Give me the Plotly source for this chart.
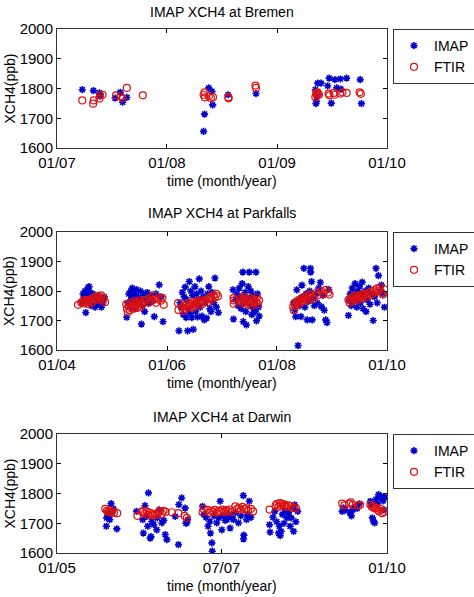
import plotly.graph_objects as go

# ---------------- data ----------------
bremen_imap = [
    ("2007-03-26",1796),("2007-05-02",1793),("2007-05-22",1785),("2007-05-24",1774),
    ("2007-07-13",1768),("2007-07-30",1787),("2007-08-07",1754),("2007-08-21",1770),
    ("2008-05-02",1656),("2008-05-05",1714),("2008-05-19",1802),("2008-05-30",1790),
    ("2008-06-01",1745),("2008-07-22",1779),("2008-10-23",1783),
    ("2009-05-08",1796),("2009-05-10",1749),("2009-05-12",1757),("2009-05-13",1774),
    ("2009-05-16",1818),("2009-05-27",1818),("2009-06-18",1809),("2009-06-23",1835),
    ("2009-06-30",1751),("2009-07-12",1830),("2009-07-18",1802),("2009-07-30",1832),
    ("2009-08-01",1798),("2009-08-20",1835),("2009-10-04",1830),("2009-10-08",1749),
]
bremen_ftir = [
    ("2007-03-26",1760),("2007-05-01",1749),("2007-05-03",1760),("2007-05-22",1766),
    ("2007-05-24",1777),("2007-06-01",1779),("2007-07-16",1777),("2007-07-31",1774),
    ("2007-08-08",1766),("2007-08-21",1802),("2007-10-13",1777),
    ("2008-05-02",1779),("2008-05-05",1787),("2008-05-06",1770),("2008-05-19",1774),
    ("2008-05-26",1768),("2008-06-02",1771),("2008-07-23",1771),("2008-07-24",1767),
    ("2008-10-21",1810),("2008-10-23",1802),
    ("2009-05-08",1771),("2009-05-11",1785),("2009-05-13",1777),("2009-05-15",1787),
    ("2009-05-17",1783),("2009-05-20",1779),("2009-06-21",1783),("2009-06-24",1777),
    ("2009-07-08",1785),("2009-07-11",1779),("2009-07-30",1783),("2009-08-06",1787),
    ("2009-08-20",1785),("2009-10-02",1787),("2009-10-06",1782),
]

parkfalls_imap = [
    ("2004-06-15",1760),("2004-06-22",1790),("2004-06-28",1775),("2004-07-05",1800),
    ("2004-07-10",1727),("2004-07-14",1785),("2004-07-20",1765),("2004-07-25",1810),
    ("2004-08-01",1815),("2004-08-05",1795),("2004-08-09",1780),("2004-08-14",1750),
    ("2004-08-20",1770),("2004-08-26",1790),("2004-09-02",1760),("2004-09-10",1745),
    ("2004-09-18",1775),("2004-09-25",1785),("2004-10-05",1755),("2004-10-12",1770),
    ("2004-10-22",1745),("2004-11-01",1760),("2004-11-10",1780),
    ("2005-04-08",1711),("2005-04-15",1760),("2005-04-22",1790),("2005-04-28",1745),
    ("2005-05-05",1800),("2005-05-10",1775),("2005-05-15",1810),("2005-05-20",1765),
    ("2005-05-25",1795),("2005-06-01",1740),("2005-06-06",1785),("2005-06-12",1805),
    ("2005-06-18",1755),("2005-06-24",1780),("2005-07-01",1770),("2005-07-08",1800),
    ("2005-07-15",1688),("2005-07-22",1750),("2005-07-28",1790),("2005-08-05",1730),
    ("2005-08-12",1775),("2005-08-22",1795),("2005-09-01",1760),("2005-09-12",1785),
    ("2005-09-25",1765),("2005-10-08",1713),("2005-10-20",1790),("2005-11-10",1821),
    ("2005-11-22",1780),("2005-12-05",1696),
    ("2006-03-21",1665),("2006-03-28",1760),("2006-04-05",1745),("2006-04-12",1795),
    ("2006-04-20",1720),("2006-04-25",1780),("2006-05-01",1813),("2006-05-08",1710),
    ("2006-05-12",1770),("2006-05-18",1665),("2006-05-22",1740),("2006-05-29",1832),
    ("2006-06-03",1725),("2006-06-08",1800),("2006-06-14",1710),("2006-06-19",1785),
    ("2006-06-24",1670),("2006-06-29",1755),("2006-07-05",1815),("2006-07-10",1730),
    ("2006-07-16",1790),("2006-07-22",1712),("2006-07-28",1770),("2006-08-03",1841),
    ("2006-08-09",1745),("2006-08-15",1800),("2006-08-21",1715),("2006-08-28",1780),
    ("2006-09-05",1702),("2006-09-12",1760),("2006-09-20",1708),("2006-09-27",1790),
    ("2006-10-05",1815),("2006-10-12",1740),("2006-10-20",1730),("2006-10-28",1795),
    ("2006-11-08",1760),("2006-11-15",1844),("2006-11-25",1745),("2006-12-08",1727),
    ("2007-03-15",1804),("2007-03-18",1705),("2007-04-01",1770),("2007-04-10",1790),
    ("2007-04-18",1750),("2007-04-25",1810),("2007-05-01",1780),("2007-05-08",1740),
    ("2007-05-15",1825),("2007-05-19",1864),("2007-05-22",1696),("2007-05-28",1760),
    ("2007-06-03",1795),("2007-06-08",1730),("2007-06-12",1685),("2007-06-18",1775),
    ("2007-06-24",1815),("2007-07-01",1864),("2007-07-06",1750),("2007-07-12",1800),
    ("2007-07-18",1720),("2007-07-24",1785),("2007-07-30",1740),("2007-08-05",1765),
    ("2007-08-10",1730),("2007-08-14",1864),("2007-08-18",1699),("2007-08-25",1790),
    ("2007-09-01",1745),("2007-09-05",1715),
    ("2008-04-20",1760),("2008-04-28",1735),("2008-05-05",1713),("2008-05-12",1804),
    ("2008-05-20",1615),("2008-05-25",1770),("2008-06-01",1750),("2008-06-08",1713),
    ("2008-06-15",1820),("2008-06-22",1780),("2008-06-28",1877),("2008-07-05",1745),
    ("2008-07-12",1790),("2008-07-20",1702),("2008-07-28",1765),("2008-08-05",1800),
    ("2008-08-10",1877),("2008-08-12",1864),("2008-08-18",1832),("2008-08-22",1702),
    ("2008-08-28",1775),("2008-09-05",1750),("2008-09-15",1790),("2008-09-25",1760),
    ("2008-10-05",1810),("2008-10-15",1829),("2008-10-22",1747),("2008-11-01",1785),
    ("2008-11-10",1735),("2008-11-20",1702),("2008-11-28",1693),("2008-12-10",1805),
    ("2009-04-20",1717),("2009-04-25",1770),("2009-05-01",1790),("2009-05-08",1750),
    ("2009-05-15",1810),("2009-05-20",1780),("2009-05-28",1765),("2009-06-03",1825),
    ("2009-06-08",1795),("2009-06-14",1745),("2009-06-20",1800),("2009-06-26",1775),
    ("2009-07-02",1815),("2009-07-08",1760),("2009-07-14",1790),("2009-07-20",1830),
    ("2009-07-26",1740),("2009-08-01",1785),("2009-08-08",1800),("2009-08-15",1730),
    ("2009-08-22",1770),("2009-09-01",1810),("2009-09-10",1755),("2009-09-20",1790),
    ("2009-10-01",1700),("2009-10-10",1780),("2009-10-20",1877),("2009-10-28",1760),
    ("2009-11-05",1852),("2009-11-15",1800),("2009-11-25",1820),("2009-12-05",1790),
    ("2009-12-15",1745),
]
parkfalls_ftir = [
    ("2004-05-20",1753),("2004-06-10",1760),("2004-06-20",1765),("2004-06-28",1758),
    ("2004-07-05",1770),("2004-07-12",1762),("2004-07-20",1768),("2004-07-28",1755),
    ("2004-08-05",1765),("2004-08-12",1772),("2004-08-20",1760),("2004-09-01",1775),
    ("2004-09-10",1780),("2004-09-18",1770),("2004-09-25",1778),("2004-10-05",1782),
    ("2004-10-12",1772),("2004-10-20",1785),("2004-10-28",1768),("2004-11-05",1775),
    ("2004-11-15",1762),
    ("2005-04-05",1755),("2005-04-10",1740),("2005-04-15",1728),("2005-04-22",1750),
    ("2005-04-28",1735),("2005-05-04",1760),("2005-05-10",1745),("2005-05-16",1752),
    ("2005-05-22",1740),("2005-05-28",1765),("2005-06-03",1748),("2005-06-09",1758),
    ("2005-06-15",1742),("2005-06-21",1762),("2005-06-27",1750),("2005-07-03",1768),
    ("2005-07-09",1745),("2005-07-15",1760),("2005-07-21",1755),("2005-08-01",1765),
    ("2005-08-15",1770),("2005-09-01",1760),("2005-09-10",1778),("2005-09-20",1768),
    ("2005-10-01",1785),("2005-10-10",1772),("2005-10-20",1760),("2005-11-05",1775),
    ("2005-11-20",1767),("2005-12-01",1777),("2005-12-10",1753),
    ("2006-03-15",1759),("2006-03-18",1736),("2006-04-10",1745),("2006-04-18",1732),
    ("2006-04-25",1750),("2006-05-02",1740),("2006-05-10",1755),("2006-05-18",1745),
    ("2006-05-25",1760),("2006-06-02",1748),("2006-06-10",1755),("2006-06-18",1742),
    ("2006-06-25",1762),("2006-07-03",1750),("2006-07-10",1758),("2006-07-18",1765),
    ("2006-07-25",1752),("2006-08-02",1760),("2006-08-10",1768),("2006-08-20",1755),
    ("2006-09-01",1765),("2006-09-15",1770),("2006-09-25",1762),("2006-10-05",1775),
    ("2006-10-15",1780),("2006-10-25",1770),("2006-11-05",1785),("2006-11-15",1778),
    ("2006-11-25",1790),("2006-12-05",1782),
    ("2007-03-18",1776),("2007-03-20",1757),("2007-03-22",1768),("2007-05-01",1765),
    ("2007-05-08",1775),("2007-05-15",1758),("2007-05-22",1770),("2007-05-29",1780),
    ("2007-06-05",1762),("2007-06-12",1772),("2007-06-19",1755),("2007-06-26",1768),
    ("2007-07-03",1760),("2007-07-10",1775),("2007-07-17",1750),("2007-07-24",1765),
    ("2007-07-31",1758),("2007-08-07",1770),("2007-08-14",1762),("2007-08-21",1778),
    ("2007-08-28",1755),("2007-09-04",1768),
    ("2008-04-18",1747),("2008-04-22",1735),("2008-04-28",1760),("2008-05-05",1750),
    ("2008-05-12",1765),("2008-05-20",1755),("2008-05-28",1770),("2008-06-05",1760),
    ("2008-06-12",1775),("2008-06-20",1765),("2008-06-28",1780),("2008-07-05",1770),
    ("2008-07-12",1778),("2008-07-20",1768),("2008-07-28",1785),("2008-08-05",1775),
    ("2008-08-12",1790),("2008-08-20",1780),("2008-09-01",1772),("2008-09-20",1795),
    ("2008-10-05",1787),("2008-10-20",1800),("2008-11-05",1790),("2008-11-20",1804),
    ("2008-12-05",1795),("2008-12-15",1788),
    ("2009-04-20",1770),("2009-04-28",1760),("2009-05-05",1775),("2009-05-12",1765),
    ("2009-05-20",1780),("2009-05-28",1770),("2009-06-05",1785),("2009-06-12",1775),
    ("2009-06-20",1768),("2009-06-28",1782),("2009-07-05",1778),("2009-07-12",1788),
    ("2009-07-20",1775),("2009-07-28",1785),("2009-08-05",1790),("2009-08-15",1780),
    ("2009-08-25",1792),("2009-09-05",1785),("2009-09-15",1798),("2009-09-25",1790),
    ("2009-10-05",1802),("2009-10-15",1795),("2009-10-25",1808),("2009-11-05",1800),
    ("2009-11-15",1812),("2009-11-25",1795),("2009-12-05",1788),("2009-12-15",1805),
]

darwin_imap = [
    ("2005-10-01",1690),("2005-10-03",1718),("2005-10-08",1735),("2005-10-14",1725),
    ("2005-10-20",1712),("2005-10-27",1766),("2005-11-02",1740),("2005-11-10",1748),
    ("2005-11-28",1681),
    ("2006-03-17",1740),("2006-04-20",1712),("2006-04-24",1667),("2006-05-03",1759),
    ("2006-05-13",1723),("2006-05-18",1690),("2006-05-22",1802),("2006-06-01",1650),
    ("2006-06-05",1655),("2006-06-10",1706),("2006-06-20",1695),("2006-07-07",1678),
    ("2006-07-10",1718),("2006-07-20",1745),("2006-08-04",1701),("2006-08-15",1710),
    ("2006-08-23",1662),("2006-09-01",1645),("2006-10-17",1723),("2006-11-04",1628),
    ("2006-11-06",1763),("2006-11-22",1785),("2006-12-11",1751),("2006-12-15",1700),
    ("2006-12-20",1701),("2006-12-25",1712),
    ("2007-03-17",1757),("2007-03-25",1730),("2007-04-05",1720),("2007-04-17",1690),
    ("2007-04-27",1706),("2007-04-30",1667),("2007-05-08",1634),("2007-05-10",1606),
    ("2007-05-20",1725),("2007-06-04",1701),("2007-06-15",1718),("2007-06-23",1774),
    ("2007-07-02",1678),("2007-07-10",1725),("2007-07-20",1710),("2007-07-30",1712),
    ("2007-08-08",1730),("2007-08-17",1684),("2007-08-25",1722),("2007-09-04",1712),
    ("2007-09-15",1735),("2007-10-02",1701),("2007-10-15",1725),("2007-10-29",1793),
    ("2007-10-30",1647),("2007-11-01",1660),("2007-11-16",1712),("2007-11-20",1729),
    ("2007-12-01",1774),("2007-12-10",1720),
    ("2008-03-22",1695),("2008-03-25",1670),("2008-04-10",1720),("2008-04-20",1740),
    ("2008-05-01",1705),("2008-05-11",1667),("2008-05-15",1690),("2008-05-20",1658),
    ("2008-05-25",1673),("2008-06-01",1730),("2008-06-10",1700),("2008-06-18",1745),
    ("2008-06-26",1718),("2008-07-05",1735),("2008-07-14",1690),("2008-07-20",1718),
    ("2008-07-28",1750),("2008-08-02",1673),("2008-08-08",1762),("2008-08-15",1705),
    ("2008-08-25",1740),
    ("2009-04-28",1740),("2009-05-05",1752),("2009-05-15",1745),("2009-06-10",1735),
    ("2009-06-18",1725),("2009-06-25",1745),("2009-07-10",1755),("2009-07-20",1750),
    ("2009-08-01",1765),
    ("2009-10-01",1774),("2009-10-05",1760),("2009-10-12",1718),("2009-10-18",1706),
    ("2009-10-25",1701),("2009-11-01",1780),("2009-11-08",1765),("2009-11-15",1796),
    ("2009-11-22",1785),("2009-12-01",1790),("2009-12-10",1775),("2009-12-15",1745),
    ("2009-12-20",1788),
]
darwin_ftir = [
    ("2005-09-25",1748),("2005-10-04",1742),("2005-10-10",1738),("2005-10-18",1744),
    ("2005-10-25",1736),("2005-11-02",1740),("2005-11-12",1735),("2005-11-30",1734),
    ("2006-03-22",1725),("2006-04-15",1738),("2006-04-24",1742),("2006-05-02",1732),
    ("2006-05-12",1740),("2006-05-20",1728),("2006-05-31",1735),("2006-06-10",1730),
    ("2006-06-18",1726),("2006-06-28",1732),("2006-07-07",1728),("2006-07-15",1735),
    ("2006-07-25",1740),("2006-08-05",1732),("2006-08-13",1742),("2006-08-25",1738),
    ("2006-09-28",1737),("2006-11-04",1734),("2006-12-08",1725),("2006-12-20",1718),
    ("2007-03-17",1737),("2007-03-24",1748),("2007-04-15",1745),("2007-04-25",1735),
    ("2007-05-05",1742),("2007-05-15",1738),("2007-05-25",1745),("2007-06-05",1736),
    ("2007-06-15",1742),("2007-06-25",1740),("2007-07-05",1746),("2007-07-15",1738),
    ("2007-07-25",1744),("2007-08-05",1740),("2007-08-15",1746),("2007-08-25",1738),
    ("2007-09-15",1757),("2007-09-25",1748),("2007-10-05",1752),("2007-10-15",1745),
    ("2007-10-25",1755),("2007-11-05",1748),("2007-11-15",1750),("2007-11-25",1742),
    ("2007-12-10",1748),("2007-12-22",1740),
    ("2008-03-22",1746),("2008-04-25",1760),("2008-05-02",1765),("2008-05-10",1755),
    ("2008-05-18",1768),("2008-05-25",1760),("2008-06-02",1765),("2008-06-10",1758),
    ("2008-06-18",1762),("2008-06-25",1755),("2008-07-05",1760),("2008-07-20",1758),
    ("2008-08-01",1752),("2008-08-15",1750),
    ("2009-04-28",1766),("2009-05-10",1760),("2009-06-05",1766),("2009-06-15",1770),
    ("2009-06-25",1762),("2009-07-25",1759),("2009-08-05",1762),
    ("2009-10-01",1762),("2009-10-10",1755),("2009-10-18",1758),("2009-10-25",1750),
    ("2009-11-02",1752),("2009-11-10",1745),("2009-11-18",1740),("2009-11-25",1748),
    ("2009-12-05",1734),("2009-12-15",1738),
]

titles = ["IMAP XCH4 at Bremen", "IMAP XCH4 at Parkfalls", "IMAP XCH4 at Darwin"]
x_ranges = [("2007-01-01", "2010-01-01"), ("2004-01-01", "2010-01-01"), ("2005-01-01", "2010-01-01")]
x_tickvals = [["2007-01-01", "2008-01-01", "2009-01-01", "2010-01-01"],
              ["2004-01-01", "2006-01-01", "2008-01-01", "2010-01-01"],
              ["2005-01-01", "2007-07-01", "2010-01-01"]]
x_ticktext = [["01/07", "01/08", "01/09", "01/10"],
              ["01/04", "01/06", "01/08", "01/10"],
              ["01/05", "07/07", "01/10"]]
y_ticks = [1600, 1700, 1800, 1900, 2000]
series_names = ["IMAP", "FTIR"]

# ---------------- layout geometry ----------------
W, H = 474, 597
FONT = "Liberation Sans, Arial, Helvetica, sans-serif"
x0, x1 = 57 / W, 387 / W
panels_px = [(29, 148), (232, 350), (434, 553)]  # top, bottom in pixels
title_px = [12, 213, 417]

sites = [(bremen_imap, bremen_ftir), (parkfalls_imap, parkfalls_ftir), (darwin_imap, darwin_ftir)]

fig = go.Figure()
layout = dict(
    template="none",
    width=W, height=H, margin=dict(l=0, r=0, t=0, b=0, autoexpand=False),
    paper_bgcolor="white", plot_bgcolor="white",
    font=dict(family=FONT, size=14, color="black"),
    showlegend=True, annotations=[],
)

for i, (imap, ftir) in enumerate(sites):
    k = "" if i == 0 else str(i + 1)
    xa, ya = "x" + k, "y" + k
    lg = "legend" + k
    fig.add_trace(go.Scatter(
        x=[d for d, v in imap], y=[v for d, v in imap], mode="markers", name=series_names[0],
        xaxis=xa, yaxis=ya, legend=lg,
        marker=dict(symbol="asterisk-open", size=6, color="#0000cc",
                    line=dict(color="#0000cc", width=1.6)),
    ))
    fig.add_trace(go.Scatter(
        x=[d for d, v in ftir], y=[v for d, v in ftir], mode="markers", name=series_names[1],
        xaxis=xa, yaxis=ya, legend=lg,
        marker=dict(symbol="circle-open", size=7, color="#dd1111",
                    line=dict(color="#dd1111", width=1.2)),
    ))
    top, bot = panels_px[i]
    dom = [1 - bot / H, 1 - top / H]
    layout["xaxis" + k] = dict(
        domain=[x0, x1], anchor=ya, type="date", automargin=False,
        range=list(x_ranges[i]), tickmode="array",
        tickvals=x_tickvals[i], ticktext=x_ticktext[i],
        ticks="inside", ticklen=4, tickcolor="black", tickwidth=1,
        showline=True, linecolor="#333", linewidth=1, mirror="ticks",
        showgrid=False, zeroline=False, tickfont=dict(size=15),
        ticklabelstandoff=1,
    )
    layout["yaxis" + k] = dict(
        domain=dom, anchor=xa, range=[1600, 2000], tickmode="array", automargin=False,
        tickvals=y_ticks, ticktext=[str(t) for t in y_ticks],
        ticks="inside", ticklen=4, tickcolor="black", tickwidth=1,
        showline=True, linecolor="#333", linewidth=1, mirror="ticks",
        showgrid=False, zeroline=False, tickfont=dict(size=15),
    )
    layout[lg] = dict(
        x=393 / W, y=1 - top / H, xanchor="left", yanchor="top",
        bordercolor="#333", borderwidth=1, bgcolor="white",
        font=dict(size=14), itemwidth=30, tracegroupgap=0,
    )
    layout["annotations"] += [
        dict(text=titles[i], x=(x0 + x1) / 2, y=1 - title_px[i] / H, xref="paper", yref="paper",
             showarrow=False, xanchor="center", yanchor="middle", font=dict(size=14)),
        dict(text="time (month/year)", x=(x0 + x1) / 2, y=1 - (bot + 33) / H, xref="paper",
             yref="paper", showarrow=False, xanchor="center", yanchor="middle", font=dict(size=14)),
        dict(text="XCH4(ppb)", x=9 / W, y=(dom[0] + dom[1]) / 2, xref="paper", yref="paper",
             showarrow=False, xanchor="center", yanchor="middle", textangle=-90, font=dict(size=14)),
    ]

fig.update_layout(**layout)
fig.write_html(
    "out.html",
    config={"displayModeBar": False},
    post_script="document.body.style.margin='0';document.body.style.padding='0';"
                "document.documentElement.style.overflow='hidden';",
)
